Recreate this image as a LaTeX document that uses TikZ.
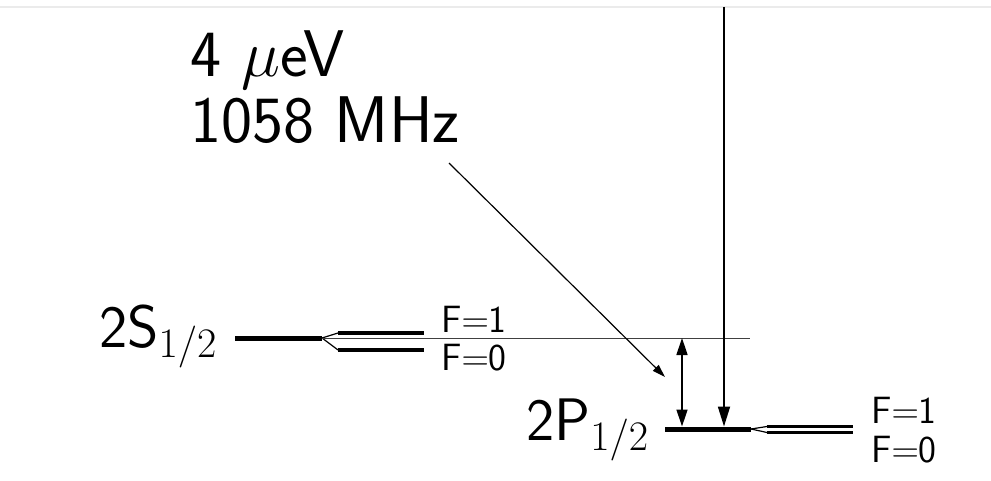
\RequirePackage{fix-cm}
\documentclass[tikz,border=0pt]{standalone}
\usepackage{fontspec}
\renewcommand{\familydefault}{\sfdefault}
\usetikzlibrary{arrows.meta}
\begin{document}
\begin{tikzpicture}[x=1pt,y=-1pt,
  lvl/.style={line width=5pt},
  hfs/.style={line width=3.6pt},
  splitline/.style={line width=1.2pt},
  refline/.style={line width=0.8pt,black!75},
  bigarrow/.style={line width=1.8pt,-{Triangle[length=20pt,width=12pt]}},
  dblarrow/.style={line width=1.4pt,{Triangle[length=17pt,width=11pt]}-{Triangle[length=17pt,width=11pt]}},
  thinarrow/.style={line width=1.2pt,-{Triangle[length=13pt,width=8pt]}},
  bigtext/.style={inner sep=0pt,anchor=base west,font=\fontsize{66}{72}\selectfont},
  lvltext/.style={inner sep=0pt,anchor=base west,font=\fontsize{60}{64}\selectfont},
  ftext/.style={inner sep=0pt,anchor=base west,font=\fontsize{38}{42}\selectfont}]
\useasboundingbox (0,0) rectangle (991,481);
% faint top edge line
\draw[line width=1.5pt,black!8] (0,7) -- (991,7);

% text
\node[bigtext] (ev) at (190,77) {4 $\mu$eV};
\node[bigtext] (mhz) at (190,143) {1058 MHz};
\node[lvltext] (s2) at (99,347) {2S$_{1/2}$};
\node[lvltext] (p2) at (526,440) {2P$_{1/2}$};
\node[ftext] (sf1) at (441,332) {F$=$1};
\node[ftext] (sf0) at (441,370) {F$=$0};
\node[ftext] (pf1) at (871,423) {F$=$1};
\node[ftext] (pf0) at (871,462) {F$=$0};

% coordinates
\coordinate (sa) at (235,338);
\coordinate (sb) at (322,338);
\coordinate (s1a) at (338,333);
\coordinate (s1b) at (424,333);
\coordinate (s0a) at (338,350);
\coordinate (s0b) at (424,350);
\coordinate (refend) at (750,338);
\coordinate (pa) at (665,429);
\coordinate (pb) at (751,429);
\coordinate (p1a) at (767,426.5);
\coordinate (p1b) at (853,426.5);
\coordinate (p0a) at (767,432.5);
\coordinate (p0b) at (853,432.5);
\coordinate (top) at (724,7);
\coordinate (vend) at (724,426.5);
\coordinate (dtop) at (682,338);
\coordinate (dbot) at (682,426.5);
\coordinate (diagstart) at (449,163);
\coordinate (diagend) at (665,377);

% 2S levels
\draw[lvl] (sa) -- (sb);
\draw[splitline] (sb) -- (s1a);
\draw[splitline] (sb) -- (s0a);
\draw[hfs] (s1a) -- (s1b);
\draw[hfs] (s0a) -- (s0b);
\draw[refline] (sb) -- (refend);

% 2P levels
\draw[lvl] (pa) -- (pb);
\draw[splitline] (pb) -- (p1a);
\draw[splitline] (pb) -- (p0a);
\draw[hfs,line width=3pt] (p1a) -- (p1b);
\draw[hfs,line width=3pt] (p0a) -- (p0b);

% arrows
\draw[bigarrow] (top) -- (vend);
\draw[dblarrow] (dtop) -- (dbot);
\draw[thinarrow] (diagstart) -- (diagend);
\end{tikzpicture}
\end{document}
